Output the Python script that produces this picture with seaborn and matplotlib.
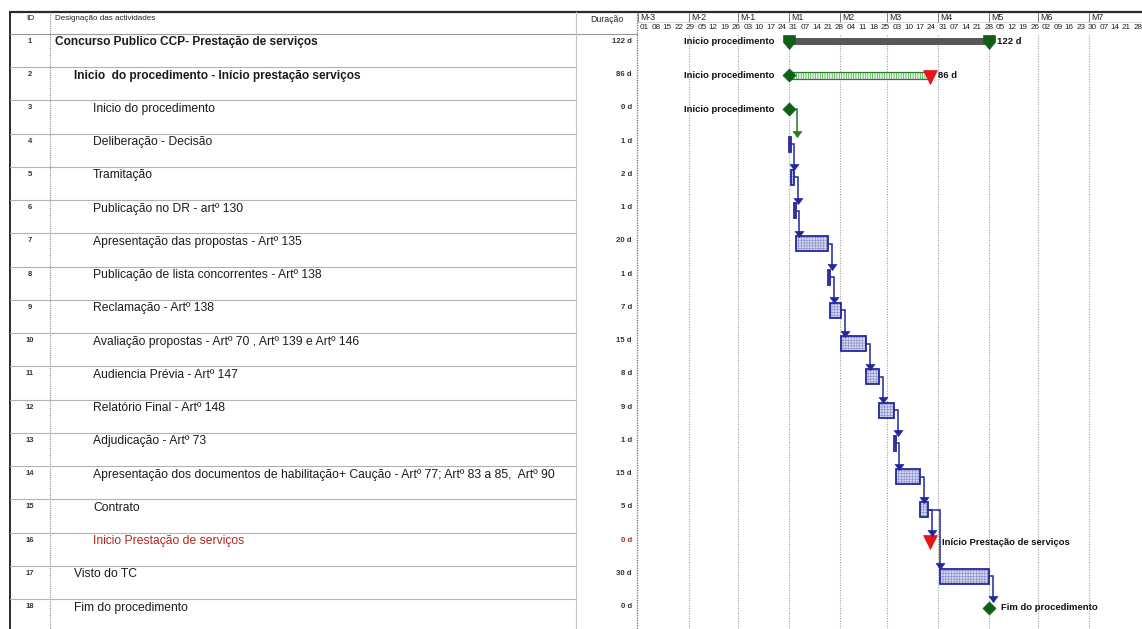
import matplotlib
matplotlib.use("Agg")
import matplotlib.pyplot as plt
from matplotlib.path import Path
import pandas as pd
import seaborn as sns

# ---------------- schedule data ----------------
task_ids = list(range(1, 19))
task_names = [
    "Concurso Publico CCP- Prestação de serviços",
    "Inicio  do procedimento - Início prestação serviços",
    "Inicio do procedimento",
    "Deliberação - Decisão",
    "Tramitação",
    "Publicação no DR - artº 130",
    "Apresentação das propostas - Artº 135",
    "Publicação de lista concorrentes - Artº 138",
    "Reclamação - Artº 138",
    "Avaliação propostas - Artº 70 , Artº 139 e Artº 146",
    "Audiencia Prévia - Artº 147",
    "Relatório Final - Artº 148",
    "Adjudicação - Artº 73",
    "Apresentação dos documentos de habilitação+ Caução - Artº 77; Artº 83 a 85,  Artº 90",
    "Contrato",
    "Inicio Prestação de serviços",
    "Visto do TC",
    "Fim do procedimento",
]
outline_level = [1, 2, 3, 3, 3, 3, 3, 3, 3, 3, 3, 3, 3, 3, 3, 3, 2, 2]
durations = [122, 86, 0, 1, 2, 1, 20, 1, 7, 15, 8, 9, 1, 15, 5, 0, 30, 0]
start_day = [0, 0, 0, 0, 1, 3, 4, 24, 25, 32, 47, 55, 64, 65, 80, 86, 92, 122]
task_kind = ["summary", "phase", "milestone"] + ["task"] * 12 + ["deadline", "task", "milestone"]
links = [(3, 4), (4, 5), (5, 6), (6, 7), (7, 8), (8, 9), (9, 10), (10, 11),
         (11, 12), (12, 13), (13, 14), (14, 15), (15, 16), (15, 17), (17, 18)]
left_labels = {1: "Inicio procedimento", 2: "Inicio procedimento", 3: "Inicio procedimento"}
right_labels = {1: "122 d", 2: "86 d", 16: "Início Prestação de serviços",
                18: "Fim do procedimento"}

month_labels = ["M-3", "M-2", "M-1", "M1", "M2", "M3", "M4", "M5", "M6", "M7"]
month_start = [-92, -61, -31, 0, 31, 60, 91, 122, 152, 183]
week_labels = ["01", "08", "15", "22", "29", "05", "12", "19", "26", "03", "10",
               "17", "24", "31", "07", "14", "21", "28", "04", "11", "18", "25",
               "03", "10", "17", "24", "31", "07", "14", "21", "28", "05", "12",
               "19", "26", "02", "09", "16", "23", "30", "07", "14", "21", "28"]
first_week_day = -91

# ---------------- layout ----------------
W, H = 1142, 629
ROW_PX = 33.24
HDR_TOP, BODY_TOP = 12, 34
COL_LEFT, COL_ID, COL_DUR, COL_GANTT = 10, 50, 576, 637
DAY0_PX, PX_PER_DAY = 789, 1.64

NAVY = "#23279a"
GREEN = "#0f5f16"
LINK_GREEN = "#1f7d22"
RED = "#e8141a"
NAME_RED = "#b3261e"

sns.set_theme(style="white")
plt.rcParams["font.family"] = ["Liberation Sans", "DejaVu Sans"]
plt.rcParams["hatch.linewidth"] = 0.45

fig = plt.figure(figsize=(W / 100, H / 100), dpi=100)
fig.patch.set_facecolor("white")


def rect(x0, y0, x1, y1):
    return [x0 / W, 1 - y1 / H, (x1 - x0) / W, (y1 - y0) / H]


def row_px(i, off):
    return BODY_TOP + (i - 1) * ROW_PX + off


def row_y(i, off):
    return (i - 1) + off / ROW_PX


# marker shapes
diamond = Path([(0, 1), (1, 0), (0, -1), (-1, 0), (0, 1)], closed=True)
tri_down = Path([(-1, 1), (1, 1), (0, -1), (-1, 1)], closed=True)
shield = Path([(-0.85, 1), (0.85, 1), (0.85, 0), (0, -1), (-0.85, 0), (-0.85, 1)], closed=True)
arrow_head = Path([(-1, 0.7), (1, 0.7), (0, -0.7), (-1, 0.7)], closed=True)

# ---------------- frame / table ----------------
ax_f = fig.add_axes([0, 0, 1, 1])
ax_f.set_xlim(0, W)
ax_f.set_ylim(H, 0)
ax_f.axis("off")
ax_f.patch.set_alpha(0)

ax_f.plot([COL_LEFT, W], [HDR_TOP, HDR_TOP], color="#2a2a2a", lw=1.6)
ax_f.plot([COL_LEFT, COL_LEFT], [HDR_TOP, H], color="#2a2a2a", lw=1.4)
ax_f.plot([COL_LEFT, COL_GANTT], [BODY_TOP - 0.5, BODY_TOP - 0.5], color="#9a9a9a", lw=0.8)
ax_f.plot([COL_ID, COL_ID], [HDR_TOP, H], color="#8a8a8a", lw=0.8, ls=(0, (1, 1)))
ax_f.plot([COL_DUR, COL_DUR], [HDR_TOP, H], color="#c4c4c4", lw=0.8)
ax_f.plot([COL_GANTT, COL_GANTT], [HDR_TOP, H], color="#6a6a6a", lw=0.9, ls=(0, (1, 1)))
for i in task_ids[1:]:
    y = row_px(i, 0)
    ax_f.plot([COL_LEFT, COL_DUR], [y, y], color="#b3b3b3", lw=0.8)

ax_f.text(30, 19, "ID", ha="center", va="center", fontsize=6, color="#222")
ax_f.text(55, 19, "Designação das actividades", ha="left", va="center", fontsize=5.8, color="#222")
ax_f.text(607, 19, "Duração", ha="center", va="center", fontsize=6.3, color="#222")

for i, name, lvl, dur, kind in zip(task_ids, task_names, outline_level, durations, task_kind):
    y = row_px(i, 8.5)
    bold = kind in ("summary", "phase")
    colour = NAME_RED if kind == "deadline" else "#1c1c1c"
    ax_f.text(30, y - 1, str(i), ha="center", va="center", fontsize=5.5,
              fontweight="bold", color="#333")
    ax_f.text(55 + (lvl - 1) * 19, y, name, ha="left", va="center",
              fontsize=8.6 if bold else 8.7, fontweight="bold" if bold else "normal", color=colour)
    ax_f.text(632, y - 1, f"{dur} d", ha="right", va="center", fontsize=5.6,
              fontweight="bold", color=NAME_RED if kind == "deadline" else "#333")

# ---------------- gantt axes ----------------
ax_g = fig.add_axes(rect(COL_GANTT, BODY_TOP, W, H))
ax_gh = fig.add_axes(rect(COL_GANTT, HDR_TOP, W, BODY_TOP), sharex=ax_g)
ax_g.set_xlim((COL_GANTT - DAY0_PX) / PX_PER_DAY, (W - DAY0_PX) / PX_PER_DAY)
ax_g.set_ylim((H - BODY_TOP) / ROW_PX, 0)
ax_gh.set_ylim(1, 0)
for a in (ax_g, ax_gh):
    a.axis("off")
    a.patch.set_alpha(0)

# timescale header
for m, lbl in zip(month_start, month_labels):
    if m > ax_g.get_xlim()[0]:
        ax_gh.plot([m, m], [0.06, 0.45], color="#7a7a7a", lw=0.7)
    ax_gh.annotate(lbl, (m, 0.26), xytext=(2, 0), textcoords="offset pixels",
                   fontsize=6.3, va="center", ha="left", color="#222")
for k, lbl in enumerate(week_labels):
    ax_gh.annotate(lbl, (first_week_day + 7 * k, 0.7), xytext=(0.2, 0), textcoords="offset pixels",
                   fontsize=5.9, va="center", ha="left", color="#222")
ax_gh.axhline(0.45, color="#c8c8c8", lw=0.5)

# month gridlines
for m in month_start[1:]:
    ax_g.axvline(m, color="#a2a2a2", lw=0.8, ls=(0, (1, 1.3)), zorder=0)

# geometry per task
ends = [s + d for s, d in zip(start_day, durations)]
centre = {}
half_h = {}
for i, kind in zip(task_ids, task_kind):
    if kind == "summary":
        centre[i], half_h[i] = row_y(i, 7.5), 3.5 / ROW_PX
    elif kind == "phase":
        centre[i], half_h[i] = row_y(i, 8), 3.5 / ROW_PX
    elif kind == "milestone":
        centre[i], half_h[i] = row_y(i, 8.6), 6.5 / ROW_PX
    elif kind == "deadline":
        centre[i], half_h[i] = row_y(i, 9.5), 7 / ROW_PX
    else:
        centre[i], half_h[i] = row_y(i, 10.5), 7.5 / ROW_PX

task_df = pd.DataFrame({"id": task_ids, "start": start_day, "dur": durations,
                        "end": ends, "kind": task_kind})
task_df["y"] = task_df["id"].map(centre)
task_df["h"] = task_df["id"].map(half_h) * 2

# summary bar
summ = task_df[task_df.kind == "summary"]
ax_g.barh(summ.y, summ.dur, left=summ.start, height=summ.h, color="#585858", lw=0, zorder=2)
ends_df = pd.DataFrame({"x": list(summ.start) + list(summ.end),
                        "y": list(summ.y + 0.5 / ROW_PX) * 2})
sns.scatterplot(data=ends_df, x="x", y="y", ax=ax_g, marker=shield, s=100,
                color=GREEN, edgecolor=GREEN, linewidth=0.5, legend=False, zorder=4)

# phase bar (hatched green)
ph = task_df[task_df.kind == "phase"]
ax_g.barh(ph.y, ph.dur, left=ph.start, height=ph.h, color="#e9f6e9", edgecolor="#3a9a3a",
          hatch="|" * 7, lw=0, zorder=2)
ax_g.barh(ph.y, ph.dur, left=ph.start, height=ph.h, fill=False, edgecolor="#22822a",
          lw=0.9, zorder=3)
sns.scatterplot(data=ph, x="start", y="y", ax=ax_g, marker=diamond, s=88,
                color=GREEN, edgecolor=GREEN, linewidth=0.5, legend=False, zorder=4)
sns.scatterplot(x=list(ph.end), y=list(ph.y + 1.3 / ROW_PX), ax=ax_g, marker=tri_down, s=100,
                color=RED, edgecolor=RED, linewidth=0.5, legend=False, zorder=4)

# ordinary tasks (hatched blue)
tk = task_df[task_df.kind == "task"]
ax_g.barh(tk.y, tk.dur, left=tk.start, height=tk.h, color="#d5d8ef", edgecolor="#8a90cc",
          hatch="+" * 6, lw=0, zorder=2)
ax_g.barh(tk.y, tk.dur, left=tk.start, height=tk.h, fill=False, edgecolor=NAVY,
          lw=1.3, zorder=3)

# milestones
ms = task_df[task_df.kind == "milestone"]
sns.scatterplot(data=ms, x="start", y="y", ax=ax_g, marker=diamond, s=88,
                color=GREEN, edgecolor=GREEN, linewidth=0.5, legend=False, zorder=4)
dl = task_df[task_df.kind == "deadline"]
sns.scatterplot(data=dl, x="start", y="y", ax=ax_g, marker=tri_down, s=100,
                color=RED, edgecolor=RED, linewidth=0.5, legend=False, zorder=4)

# dependency links
kind_of = dict(zip(task_ids, task_kind))
heads = {"x": [], "y": [], "c": []}
for p, s in links:
    pi, si = p - 1, s - 1
    if kind_of[p] == "milestone":
        x0 = start_day[pi] + 6.5 / PX_PER_DAY
        xv = start_day[pi] + 5
        col = LINK_GREEN
    else:
        x0 = ends[pi]
        xv = max(ends[pi] + 2.3, start_day[si] + 0.3)
        col = NAVY
    y0 = centre[p]
    tip = centre[s] - half_h[s]
    yh = tip - 2.5 / ROW_PX
    ax_g.plot([x0, xv, xv], [y0, y0, yh], color=col, lw=1.1, zorder=3,
              solid_joinstyle="miter")
    heads["x"].append(xv)
    heads["y"].append(yh)
    heads["c"].append(col)
heads_df = pd.DataFrame(heads)
for col, grp in heads_df.groupby("c"):
    sns.scatterplot(data=grp, x="x", y="y", ax=ax_g, marker=arrow_head, s=42,
                    color=col, edgecolor=col, linewidth=0.4, legend=False, zorder=5)

# bar labels
for i, txt in left_labels.items():
    ax_g.annotate(txt, (start_day[i - 1], centre[i]), xytext=(-14, 0), textcoords="offset pixels",
                  ha="right", va="center", fontsize=6.8, fontweight="bold", color="#111")
for i, txt in right_labels.items():
    off = 8 if kind_of[i] in ("summary", "phase") else 12
    ax_g.annotate(txt, (ends[i - 1], centre[i]), xytext=(off, 0), textcoords="offset pixels",
                  ha="left", va="center", fontsize=6.8, fontweight="bold", color="#111")

fig.savefig("out.png", dpi=100, facecolor="white")
